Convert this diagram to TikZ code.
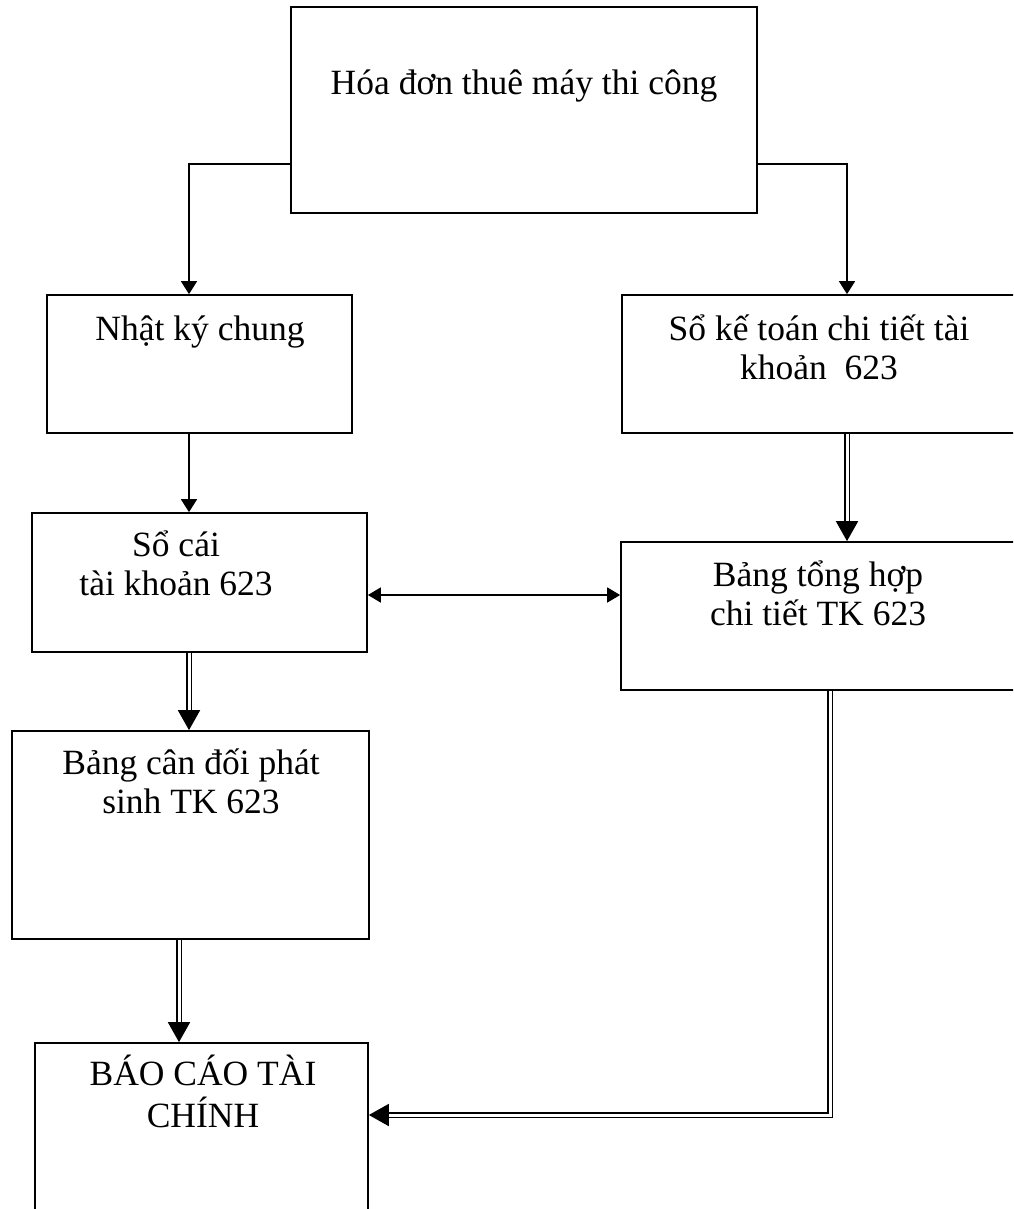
\documentclass[tikz,border=0pt]{standalone}
\usepackage{fontspec}
\setmainfont{Liberation Serif}
\usetikzlibrary{arrows.meta}

% multi-line label whose baseline is the first line's baseline
\newcommand\txtlines[1]{\begin{tabular}[t]{@{}c@{}}#1\end{tabular}}

\begin{document}
\begin{tikzpicture}[x=1pt,y=-1pt,
  box/.style={draw, line width=1.7pt, inner sep=0pt, minimum width=#1},
  lbl/.style={anchor=base, inner sep=0pt, font=\fontsize{35.5}{39}\selectfont},
  flow/.style={line width=1.6pt, -{Triangle[length=13pt,width=16pt]}},
  dflow/.style={double, double distance=3pt, line width=1.8pt,
                -{Triangle[length=20pt,width=22pt]}},
  both/.style={line width=1.6pt, {Triangle[length=13pt,width=15pt]}-{Triangle[length=13pt,width=15pt]}}]

\clip (0,0) rectangle (1013,1209);
\fill[white] (0,0) rectangle (1013,1209);

% boxes
\node[box=466pt, minimum height=206pt] (hd)  at (524,110)   {};
\node[box=305pt, minimum height=138pt] (nkc) at (199.5,364) {};
\node[box=398pt, minimum height=138pt] (skt) at (821,364)   {};
\node[box=335pt, minimum height=139pt] (sc)  at (199.5,582.5) {};
\node[box=399pt, minimum height=148pt] (bth) at (820.5,616) {};
\node[box=357pt, minimum height=208pt] (bcd) at (190.5,835) {};
\node[box=333pt, minimum height=180pt] (bc)  at (201.5,1133) {};

% labels
\node[lbl] (hd-t)  at (524,95)  {Hóa đơn thuê máy thi công};
\node[lbl] (nkc-t) at (200,340) {Nhật ký chung};
\node[lbl] (skt-t) at (819,340) {\txtlines{Sổ kế toán chi tiết tài\\khoản~~623}};
\node[lbl] (sc-t)  at (176,556) {\txtlines{Sổ cái\\tài khoản 623}};
\node[lbl] (bth-t) at (818,586) {\txtlines{Bảng tổng hợp\\chi tiết TK 623}};
\node[lbl] (bcd-t) at (191,774) {\txtlines{Bảng cân đối phát\\sinh TK 623}};
\node[lbl] (bc-t)  at (203,1085) {\txtlines{BÁO CÁO TÀI\\CHÍNH}};

% connectors
\draw[flow] (hd.west |- 0,164) -| ([xshift=-10.5pt]nkc.north);
\draw[flow] (hd.east |- 0,164) -| ([xshift=26pt]skt.north);
\draw[flow] ([xshift=-10.5pt]nkc.south) -- ([xshift=-10.5pt]sc.north);
\draw[dflow] ([xshift=26pt]skt.south) -- ([xshift=26.5pt]bth.north);
\draw[both] (sc.east |- 0,595) -- (bth.west |- 0,595);
\draw[dflow] ([xshift=-10.5pt]sc.south) -- (bcd.north -| sc.south -| 189,0);
\draw[dflow] (bcd.south -| 179,0) -- (bc.north -| 179,0);
\draw[dflow, line join=miter] (bth.south -| 830,0) |- (bc.east |- 0,1115);
\end{tikzpicture}
\end{document}
